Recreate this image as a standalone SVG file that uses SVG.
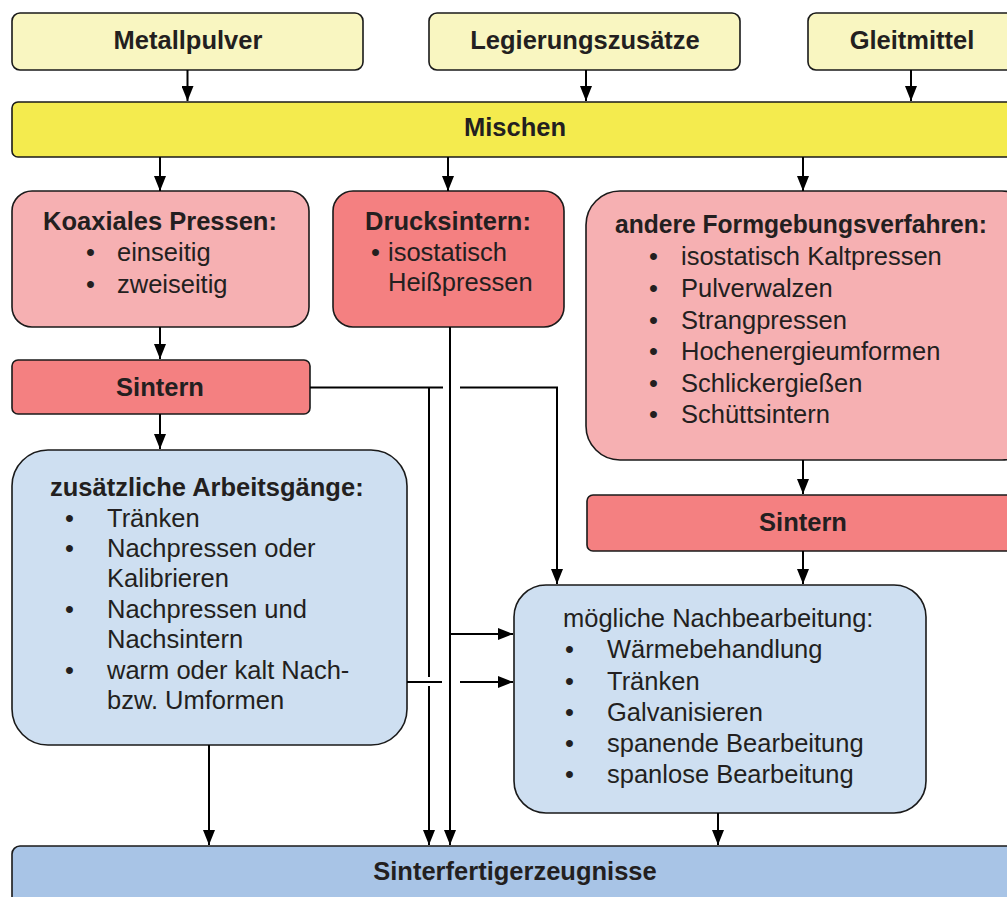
<svg xmlns="http://www.w3.org/2000/svg" width="1007" height="897" viewBox="0 0 1007 897">
<defs>
<marker id="ah" markerUnits="userSpaceOnUse" markerWidth="16" markerHeight="12" viewBox="0 0 15 12" refX="15" refY="6" orient="auto">
<path d="M0,0 L15,6 L0,12 Z" fill="#000"/>
</marker>
<style>
.box{stroke:#1a1a1a;stroke-width:1.6}
.y1{fill:#F9F6C1}
.y2{fill:#F4EB4E}
.p1{fill:#F6B0B2}
.p2{fill:#F48081}
.b1{fill:#CEDFF1}
.b2{fill:#A8C4E6}
text{font-family:"Liberation Sans",Arial,sans-serif;fill:#231F20;font-size:25.5px}
.h{font-weight:bold;text-anchor:middle}
.hl{font-weight:bold}
.c{stroke:#000;stroke-width:2;fill:none}
.ca{stroke:#000;stroke-width:2;fill:none;marker-end:url(#ah)}
</style>
</defs>

<g id="metallpulver"><rect class="box y1" x="12" y="13" width="351" height="57" rx="8"/><text class="h" x="188" y="49">Metallpulver</text></g>
<g id="legierung"><rect class="box y1" x="429" y="13" width="311" height="57" rx="8"/><text class="h" x="585" y="49">Legierungszusätze</text></g>
<g id="gleitmittel"><rect class="box y1" x="808" y="13" width="230" height="57" rx="8"/><text class="h" x="912" y="49">Gleitmittel</text></g>
<g id="mischen"><rect class="box y2" x="12" y="102" width="1030" height="55" rx="6"/><text class="h" x="515" y="136">Mischen</text></g>

<g id="koaxial"><rect class="box p1" x="12" y="191" width="297" height="136" rx="20"/>
<text class="h" x="160" y="230">Koaxiales Pressen:</text>
<text x="86" y="261">•</text><text x="117" y="261">einseitig</text>
<text x="86" y="293">•</text><text x="117" y="293">zweiseitig</text></g>

<g id="drucksintern"><rect class="box p2" x="333" y="191" width="231" height="136" rx="20"/>
<text class="h" x="448" y="230">Drucksintern:</text>
<text x="371" y="261">•</text><text x="388" y="261">isostatisch</text>
<text x="388" y="291">Heißpressen</text></g>

<g id="andere"><rect class="box p1" x="586" y="191" width="450" height="269" rx="34"/>
<text class="h" x="801" y="233" textLength="372" lengthAdjust="spacingAndGlyphs">andere Formgebungsverfahren:</text>
<text x="649" y="265">•</text><text x="681" y="265">isostatisch Kaltpressen</text>
<text x="649" y="297">•</text><text x="681" y="297">Pulverwalzen</text>
<text x="649" y="329">•</text><text x="681" y="329">Strangpressen</text>
<text x="649" y="360">•</text><text x="681" y="360">Hochenergieumformen</text>
<text x="649" y="392">•</text><text x="681" y="392">Schlickergießen</text>
<text x="649" y="423">•</text><text x="681" y="423">Schüttsintern</text></g>

<g id="sintern1"><rect class="box p2" x="12" y="360" width="298" height="54" rx="6"/><text class="h" x="160" y="396">Sintern</text></g>

<g id="zusaetzlich"><rect class="box b1" x="12" y="450" width="395" height="295" rx="36"/>
<text class="hl" x="50" y="496">zusätzliche Arbeitsgänge:</text>
<text x="65" y="527">•</text><text x="107" y="527">Tränken</text>
<text x="65" y="557">•</text><text x="107" y="557">Nachpressen oder</text>
<text x="107" y="587">Kalibrieren</text>
<text x="65" y="618">•</text><text x="107" y="618">Nachpressen und</text>
<text x="107" y="648">Nachsintern</text>
<text x="65" y="679">•</text><text x="107" y="679">warm oder kalt Nach-</text>
<text x="107" y="709">bzw. Umformen</text></g>

<g id="sintern2"><rect class="box p2" x="587" y="495" width="450" height="56" rx="6"/><text class="h" x="803" y="531">Sintern</text></g>

<g id="nachbearbeitung"><rect class="box b1" x="514" y="585" width="412" height="228" rx="32"/>
<text x="563" y="627">mögliche Nachbearbeitung:</text>
<text x="565" y="658">•</text><text x="607" y="658">Wärmebehandlung</text>
<text x="565" y="690">•</text><text x="607" y="690">Tränken</text>
<text x="565" y="721">•</text><text x="607" y="721">Galvanisieren</text>
<text x="565" y="752">•</text><text x="607" y="752">spanende Bearbeitung</text>
<text x="565" y="783">•</text><text x="607" y="783">spanlose Bearbeitung</text></g>

<g id="sinterfertig"><rect class="box b2" x="12" y="846" width="1030" height="80" rx="8"/><text class="h" x="515" y="880">Sinterfertigerzeugnisse</text></g>

<g id="connectors">
<path class="ca" d="M187.5 70 V101"/>
<path class="ca" d="M586 70 V101"/>
<path class="ca" d="M911 70 V101"/>
<path class="ca" d="M160 157 V191"/>
<path class="ca" d="M448 157 V191"/>
<path class="ca" d="M803 157 V191"/>
<path class="ca" d="M160 327 V359"/>
<path class="ca" d="M160 414 V449"/>
<path class="c" d="M310 387.5 H443"/>
<path class="ca" d="M460 387.5 H557 V584"/>
<path class="c" d="M429 388 V677"/>
<path class="ca" d="M429 686 V845"/>
<path class="ca" d="M450 327 V845"/>
<path class="ca" d="M450 634 H513"/>
<path class="c" d="M407 682 H442"/>
<path class="ca" d="M460 682 H513"/>
<path class="ca" d="M209 745 V845"/>
<path class="ca" d="M803 460 V494"/>
<path class="ca" d="M803 551 V584"/>
<path class="ca" d="M718 813 V845"/>
</g>
</svg>
